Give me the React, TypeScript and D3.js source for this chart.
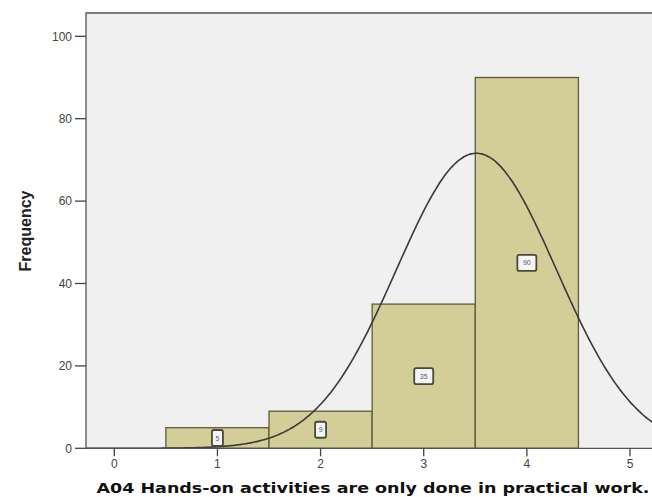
import React, { useRef, useEffect } from 'react';
import * as d3 from 'd3';

// response categories and their counts
const categories = [1, 2, 3, 4];
const counts = [5, 9, 35, 90];
const xTicks = [0, 1, 2, 3, 4, 5];
const yTicks = [0, 20, 40, 60, 80, 100];
const xTitle = 'A04 Hands-on activities are only done in practical work.';
const yTitle = 'Frequency';

export default function App() {
  const svgRef = useRef<SVGSVGElement>(null);
  const width = 652;
  const height = 497;

  useEffect(() => {
    const svg = d3.select(svgRef.current);
    svg.selectAll('*').remove();

    const left = 86, top = 13, bottom = 448.3, right = width;

    const x = d3.scaleLinear().domain([0, 5]).range([114.3, 630]);
    const y = d3.scaleLinear().domain([0, 100]).range([bottom, 36.3]);

    // plot background
    svg.append('rect')
      .attr('x', left).attr('y', top)
      .attr('width', right - left).attr('height', bottom - top)
      .attr('fill', '#f0f0f0');

    svg.append('defs').append('clipPath').attr('id', 'plotclip')
      .append('rect')
      .attr('x', left).attr('y', top)
      .attr('width', right - left).attr('height', bottom - top);

    // bars
    const data = categories.map((c, i) => ({ c, n: counts[i] }));
    svg.append('g').selectAll('rect')
      .data(data)
      .enter()
      .append('rect')
      .attr('x', d => x(d.c - 0.5))
      .attr('y', d => y(d.n))
      .attr('width', d => x(d.c + 0.5) - x(d.c - 0.5))
      .attr('height', d => bottom - y(d.n))
      .attr('fill', '#d3ce97')
      .attr('stroke', '#5e5b3c')
      .attr('stroke-width', 1.3);

    // normal curve fitted to the data
    const total = d3.sum(counts);
    const mean = d3.sum(data, d => d.c * d.n) / total;
    const variance = d3.sum(data, d => d.n * (d.c - mean) ** 2) / (total - 1);
    const sd = Math.sqrt(variance);
    const xs = d3.range(-0.4, 5.6, 0.02);
    const line = d3.line<number>()
      .x(v => x(v))
      .y(v => y(total / (sd * Math.sqrt(2 * Math.PI)) * Math.exp(-((v - mean) ** 2) / (2 * variance))))
      .curve(d3.curveBasis);
    svg.append('path')
      .datum(xs)
      .attr('d', line)
      .attr('clip-path', 'url(#plotclip)')
      .attr('fill', 'none')
      .attr('stroke', '#3a3a3a')
      .attr('stroke-width', 1.6);

    // value boxes
    const labels = svg.append('g');
    data.forEach(d => {
      const cx = x(d.c);
      const cy = y(d.n / 2);
      const w = String(d.n).length > 1 ? 19 : 11;
      const h = 16;
      labels.append('rect')
        .attr('x', cx - w / 2).attr('y', cy - h / 2)
        .attr('width', w).attr('height', h)
        .attr('rx', 2)
        .attr('fill', '#f4f4f4')
        .attr('stroke', '#4a4838')
        .attr('stroke-width', 1.8);
      labels.append('text')
        .attr('x', cx).attr('y', cy + 2.5)
        .attr('text-anchor', 'middle')
        .style('font-family', 'Liberation Sans, Arial, sans-serif')
        .style('font-size', '7px')
        .attr('fill', '#5a5a7a')
        .text(d.n);
    });

    // frame
    svg.append('path')
      .attr('d', `M${right},${top}H${left}V${bottom}H${right}`)
      .attr('fill', 'none')
      .attr('stroke', '#555')
      .attr('stroke-width', 1.3);

    // y axis
    const yAxis = svg.append('g');
    yTicks.forEach(t => {
      yAxis.append('line')
        .attr('x1', 75).attr('x2', left)
        .attr('y1', y(t)).attr('y2', y(t))
        .attr('stroke', '#444').attr('stroke-width', 1.3);
      yAxis.append('text')
        .attr('x', 72).attr('y', y(t) + 4.3)
        .attr('text-anchor', 'end')
        .style('font-family', 'Liberation Sans, Arial, sans-serif')
        .style('font-size', '12px')
        .attr('fill', '#444')
        .text(t);
    });

    // x axis
    const xAxis = svg.append('g');
    xTicks.forEach(t => {
      xAxis.append('line')
        .attr('x1', x(t)).attr('x2', x(t))
        .attr('y1', bottom).attr('y2', bottom + 8)
        .attr('stroke', '#444').attr('stroke-width', 1.3);
      xAxis.append('text')
        .attr('x', x(t)).attr('y', bottom + 19.5)
        .attr('text-anchor', 'middle')
        .style('font-family', 'Liberation Sans, Arial, sans-serif')
        .style('font-size', '12px')
        .attr('fill', '#444')
        .text(t);
    });

    // axis titles
    svg.append('text')
      .attr('x', 373).attr('y', 493)
      .attr('text-anchor', 'middle')
      .attr('textLength', 553)
      .attr('lengthAdjust', 'spacingAndGlyphs')
      .style('font-family', 'DejaVu Sans, Verdana, sans-serif')
      .style('font-weight', 'bold')
      .style('font-size', '14.5px')
      .attr('fill', '#111')
      .text(xTitle);

    svg.append('text')
      .attr('transform', 'translate(31,231) rotate(-90)')
      .attr('text-anchor', 'middle')
      .style('font-family', 'Liberation Sans, Arial, sans-serif')
      .style('font-weight', 'bold')
      .style('font-size', '16px')
      .attr('fill', '#222')
      .text(yTitle);
  }, []);

  return (
    <svg
      ref={svgRef}
      width={width}
      height={height}
      style={{ position: 'absolute', left: 0, top: 0, background: '#fff' }}
    />
  );
}
